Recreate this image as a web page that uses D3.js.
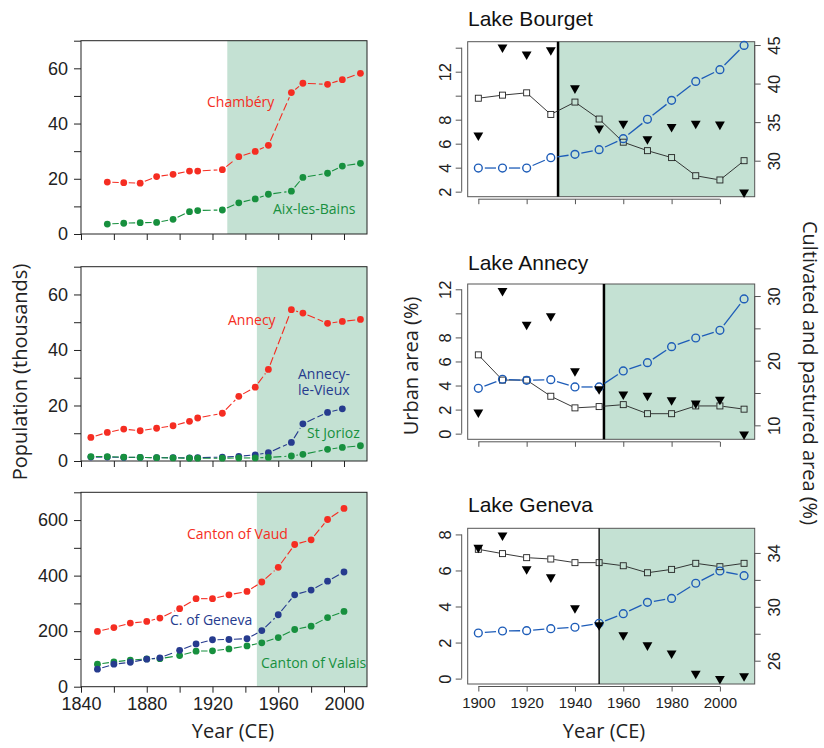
<!DOCTYPE html>
<html lang="en">
<head>
<meta charset="UTF-8">
<script src="https://cdn.jsdelivr.net/npm/d3@7"></script>
<title>Population and land use around the lakes</title>
<style>
  html, body { margin: 0; padding: 0; background: #fff; }
  svg { display: block; }
  .tick-label { font-family: "Liberation Sans", Arial, sans-serif; fill: #222; }
  .title { font-family: "Open Sans", sans-serif; fill: #222; }
</style>
</head>
<body>
<div id="chart"></div>
<script>
// ---- left column: population (thousands) ----
const chamberyYears = [1856, 1866, 1876, 1886, 1896, 1906, 1911, 1926, 1936, 1946, 1954, 1968, 1975, 1990, 1999, 2010];
const chamberyPop = [18.8, 18.6, 18.4, 20.8, 21.6, 22.8, 22.8, 23.3, 28.0, 29.9, 32.1, 51.2, 54.6, 54.2, 55.9, 58.2];
const aixPop = [3.6, 3.9, 4.1, 4.2, 5.3, 8.1, 8.5, 8.7, 11.3, 12.7, 14.4, 15.5, 20.5, 22.0, 24.6, 25.6];

const annecyYears = [1846, 1856, 1866, 1876, 1886, 1896, 1906, 1911, 1926, 1936, 1946, 1954, 1968, 1975, 1990, 1999, 2010];
const annecyPop = [8.5, 10.3, 11.5, 10.9, 11.8, 12.7, 14.3, 15.5, 17.2, 23.3, 26.6, 33.0, 54.5, 53.3, 49.6, 50.3, 51.0];
const annecyLeVieuxPop = [1.4, 1.4, 1.3, 1.3, 1.2, 1.2, 1.1, 1.2, 1.4, 1.7, 2.2, 3.0, 6.7, 13.4, 17.5, 18.8];
const stJoriozPop = [1.6, 1.6, 1.4, 1.3, 1.2, 1.1, 1.0, 1.0, 1.0, 1.1, 1.1, 1.3, 1.8, 2.4, 4.2, 4.9, 5.5];

const swissYears = [1850, 1860, 1870, 1880, 1888, 1900, 1910, 1920, 1930, 1941, 1950, 1960, 1970, 1980, 1990, 2000];
const vaudPop = [199, 213, 229, 235, 247, 281, 317, 317, 331, 343, 377, 430, 512, 529, 602, 642];
const genevaPop = [63, 81, 88, 99, 104, 131, 154, 169, 170, 173, 202, 259, 331, 348, 380, 413];
const valaisPop = [81, 89, 96, 100, 101, 112, 128, 129, 136, 147, 158, 177, 206, 218, 249, 271];

const popYearTicks = [1840, 1860, 1880, 1900, 1920, 1940, 1960, 1980, 2000];
const popYearLabels = [1840, 1880, 1920, 1960, 2000];

// ---- right column: urban area (%) and cultivated/pastured area (%) ----
const lakeYears = [1900, 1910, 1920, 1930, 1940, 1950, 1960, 1970, 1980, 1990, 2000, 2010];
const lakeYearTicks = [1900, 1920, 1940, 1960, 1980, 2000];

const bourgetUrban = [3.97, 3.97, 3.97, 4.83, 5.11, 5.50, 6.42, 8.03, 9.61, 11.19, 12.17, 14.19];
const bourgetCult = [38.1, 38.5, 38.8, 36.0, 37.6, 35.4, 32.4, 31.3, 30.4, 28.05, 27.5, 30.0];
const bourgetTri = [33.3, 44.7, 43.8, 44.35, 39.4, 34.2, 34.8, 32.8, 34.4, 34.8, 34.7, 25.9];

const annecyUrban = [3.77, 4.52, 4.43, 4.49, 3.88, 3.88, 5.21, 5.90, 7.23, 7.95, 8.59, 11.2];
const annecyCult = [20.9, 17.0, 17.0, 14.5, 12.7, 12.9, 13.2, 11.8, 11.8, 13.0, 13.0, 12.5];
const annecyTri = [12.0, 30.8, 25.6, 26.9, 18.4, 15.6, 14.8, 14.6, 13.9, 13.4, 14.0, 8.6];

const genevaUrban = [2.53, 2.64, 2.66, 2.77, 2.85, 3.07, 3.60, 4.23, 4.45, 5.29, 5.97, 5.71];
const genevaCult = [34.27, 33.95, 33.65, 33.55, 33.28, 33.28, 33.05, 32.53, 32.78, 33.23, 32.98, 33.23];
const genevaTri = [34.4, 35.3, 32.8, 32.2, 29.9, 28.65, 27.9, 27.15, 26.55, 25.05, 24.65, 24.85];

const red = "#f52d22", blue = "#263b8e", green = "#17903e";
const shade = "#c4e1d3", lakeBlue = "#1d5cb8";

const width = 824, height = 748;
const svg = d3.select("#chart").append("svg").attr("width", width).attr("height", height);

// draw a line that stops short of each point (like R type="b")
function gapLine(g, pts, gap, color, widthPx, dash) {
    for (let i = 0; i < pts.length - 1; i++) {
        const [x1, y1] = pts[i], [x2, y2] = pts[i + 1];
        const dx = x2 - x1, dy = y2 - y1, len = Math.hypot(dx, dy);
        if (len <= 2 * gap) continue;
        const ux = dx / len, uy = dy / len;
        g.append("line")
            .attr("x1", x1 + ux * gap).attr("y1", y1 + uy * gap)
            .attr("x2", x2 - ux * gap).attr("y2", y2 - uy * gap)
            .attr("stroke", color).attr("stroke-width", widthPx)
            .attr("stroke-dasharray", dash || null);
    }
}

// ---------------- left column ----------------
const popX = d3.scaleLinear().domain([1840, 2014]).range([81, 367]);

const popPanels = [
    {top: 40.7, bottom: 234, max: 70, step: 10, labels: [0, 20, 40, 60], shadeFrom: 1929,
     series: [
        {years: chamberyYears, values: chamberyPop, color: red},
        {years: chamberyYears, values: aixPop, color: green}],
     notes: [
        {text: "Chambéry", x: 207, y: 107, color: red},
        {text: "Aix-les-Bains", x: 273, y: 214, color: green}]},
    {top: 266.7, bottom: 461, max: 70, step: 10, labels: [0, 20, 40, 60], shadeFrom: 1947,
     series: [
        {years: annecyYears, values: annecyPop, color: red},
        {years: annecyYears.slice(0, annecyLeVieuxPop.length), values: annecyLeVieuxPop, color: blue},
        {years: annecyYears, values: stJoriozPop, color: green}],
     notes: [
        {text: "Annecy", x: 228, y: 325, color: red},
        {text: "Annecy-", x: 298, y: 379, color: blue},
        {text: "le-Vieux", x: 298, y: 395, color: blue},
        {text: "St Jorioz", x: 307, y: 438, color: green}]},
    {top: 492.3, bottom: 686.7, max: 700, step: 100, labels: [0, 200, 400, 600], shadeFrom: 1947,
     series: [
        {years: swissYears, values: valaisPop, color: green},
        {years: swissYears, values: genevaPop, color: blue},
        {years: swissYears, values: vaudPop, color: red}],
     notes: [
        {text: "Canton of Vaud", x: 187, y: 539, color: red},
        {text: "C. of Geneva", x: 170, y: 625, color: blue},
        {text: "Canton of Valais", x: 261, y: 668, color: green}],
     xLabels: true}
];

popPanels.forEach(p => {
    const y = d3.scaleLinear().domain([0, p.max]).range([p.bottom, p.top]);
    const g = svg.append("g");
    const [x0, x1] = popX.range();

    g.append("rect")
        .attr("x", popX(p.shadeFrom)).attr("y", p.top)
        .attr("width", x1 - popX(p.shadeFrom)).attr("height", p.bottom - p.top)
        .attr("fill", shade);

    g.append("rect")
        .attr("x", x0).attr("y", p.top).attr("width", x1 - x0).attr("height", p.bottom - p.top)
        .attr("fill", "none").attr("stroke", "#222").attr("stroke-width", 1);

    const yTicks = d3.range(0, p.max + 1, p.step);
    const ya = g.append("g").attr("transform", `translate(${x0},0)`)
        .call(d3.axisLeft(y).tickValues(yTicks).tickSize(7).tickPadding(6)
            .tickFormat(d => p.labels.includes(d) ? d : ""));
    ya.select(".domain").remove();
    ya.selectAll("line").attr("stroke", "#222");
    ya.selectAll("text").attr("class", "tick-label").attr("font-size", 18).attr("fill", "#222");

    const xa = g.append("g").attr("transform", `translate(0,${p.bottom})`)
        .call(d3.axisBottom(popX).tickValues(popYearTicks).tickSize(6).tickPadding(5)
            .tickFormat(d => p.xLabels && popYearLabels.includes(d) ? d : ""));
    xa.select(".domain").remove();
    xa.selectAll("line").attr("stroke", "#222");
    xa.selectAll("text").attr("class", "tick-label").attr("font-size", 18).attr("fill", "#222");

    p.series.forEach(s => {
        const pts = s.years.map((yr, i) => [popX(yr), y(s.values[i])]);
        gapLine(g, pts, 5, s.color, 1.1, "8,3");
        g.selectAll(null).data(pts).join("circle")
            .attr("cx", d => d[0]).attr("cy", d => d[1]).attr("r", 3.4)
            .attr("fill", s.color);
    });

    p.notes.forEach(n => {
        g.append("text").attr("x", n.x).attr("y", n.y)
            .attr("font-family", "Open Sans, sans-serif").attr("font-size", 14)
            .attr("fill", n.color).text(n.text);
    });
});

svg.append("text").attr("class", "title")
    .attr("transform", "translate(27,372) rotate(-90)")
    .attr("text-anchor", "middle").attr("font-size", 20)
    .text("Population (thousands)");
svg.append("text").attr("class", "title")
    .attr("x", 233).attr("y", 738).attr("text-anchor", "middle").attr("font-size", 20)
    .text("Year (CE)");

// ---------------- right column ----------------
const lakeX = d3.scaleLinear().domain([1895.6, 2014.4]).range([467.7, 754.7]);

const lakePanels = [
    {name: "Lake Bourget", top: 41.7, bottom: 196.7, titleY: 26,
     left: [1.58, 14.5], leftTicks: [2, 4, 6, 8, 10, 12, 14], leftLabels: [2, 4, 6, 8, 12],
     right: [25.33, 45.43], rightTicks: [30, 35, 40, 45], rightLabels: [30, 35, 40, 45],
     line: 1933, lineW: 2.5, urban: bourgetUrban, cult: bourgetCult, tri: bourgetTri},
    {name: "Lake Annecy", top: 284, bottom: 439.3, titleY: 270,
     left: [-0.47, 12.44], leftTicks: [0, 2, 4, 6, 8, 10, 12], leftLabels: [0, 2, 4, 6, 8, 12],
     right: [7.84, 31.86], rightTicks: [10, 15, 20, 25, 30], rightLabels: [10, 20, 30],
     line: 1952, lineW: 2.5, urban: annecyUrban, cult: annecyCult, tri: annecyTri},
    {name: "Lake Geneva", top: 528.3, bottom: 684, titleY: 512,
     left: [-0.3, 8.34], leftTicks: [0, 2, 4, 6, 8], leftLabels: [0, 2, 4, 6, 8],
     right: [24.27, 35.83], rightTicks: [26, 28, 30, 32, 34], rightLabels: [26, 30, 34],
     line: 1950, lineW: 1.3, urban: genevaUrban, cult: genevaCult, tri: genevaTri, xLabels: true}
];

const tri = d3.symbol().type(d3.symbolTriangle).size(42);

// move a rotated tick label out of its tick group so it can be turned
function turnLabels(axisG, dx) {
    axisG.selectAll(".tick").each(function () {
        const tick = d3.select(this);
        const yy = +tick.attr("transform").match(/,([-\d.]+)\)/)[1];
        tick.attr("transform", "translate(0,0)");
        tick.select("line").attr("transform", `translate(0,${yy})`);
        tick.select("text").attr("class", "tick-label").attr("font-size", 16.5)
            .attr("text-anchor", "middle").attr("x", 0).attr("y", 0).attr("dy", 0)
            .attr("transform", `translate(${dx},${yy}) rotate(-90)`);
    });
}

lakePanels.forEach(p => {
    const yl = d3.scaleLinear().domain(p.left).range([p.bottom, p.top]);
    const yr = d3.scaleLinear().domain(p.right).range([p.bottom, p.top]);
    const [x0, x1] = lakeX.range();
    const g = svg.append("g");

    g.append("text").attr("x", 468).attr("y", p.titleY)
        .attr("font-family", "Liberation Sans, Arial, sans-serif").attr("font-size", 21)
        .attr("fill", "#111").text(p.name);

    g.append("rect")
        .attr("x", lakeX(p.line)).attr("y", p.top)
        .attr("width", x1 - lakeX(p.line)).attr("height", p.bottom - p.top)
        .attr("fill", shade);
    g.append("rect")
        .attr("x", x0).attr("y", p.top).attr("width", x1 - x0).attr("height", p.bottom - p.top)
        .attr("fill", "none").attr("stroke", "#555").attr("stroke-width", 1);
    g.append("line")
        .attr("x1", lakeX(p.line)).attr("x2", lakeX(p.line))
        .attr("y1", p.top).attr("y2", p.bottom)
        .attr("stroke", "#000").attr("stroke-width", p.lineW);

    // left axis, offset from the box
    const la = g.append("g").attr("transform", `translate(${x0 - 6},0)`)
        .call(d3.axisLeft(yl).tickValues(p.leftTicks).tickSizeOuter(0).tickSize(6)
            .tickFormat(d => p.leftLabels.includes(d) ? d : ""));
    la.select(".domain").attr("d", `M0,${yl(p.leftTicks[0])}V${yl(p.leftTicks[p.leftTicks.length - 1])}`)
        .attr("stroke", "#555");
    la.selectAll("line").attr("stroke", "#555");
    turnLabels(la, -11);

    // right axis, on the box edge
    const ra = g.append("g").attr("transform", `translate(${x1},0)`)
        .call(d3.axisRight(yr).tickValues(p.rightTicks).tickSizeOuter(0).tickSize(6)
            .tickFormat(d => p.rightLabels.includes(d) ? d : ""));
    ra.select(".domain").attr("d", `M0,${yr(p.rightTicks[0])}V${yr(p.rightTicks[p.rightTicks.length - 1])}`)
        .attr("stroke", "#555");
    ra.selectAll("line").attr("stroke", "#555");
    turnLabels(ra, 25);

    // bottom axis, slightly below the box
    const xa = g.append("g").attr("transform", `translate(0,${p.bottom + 2.5})`)
        .call(d3.axisBottom(lakeX).tickValues(lakeYearTicks).tickSizeOuter(0).tickSize(5).tickPadding(6)
            .tickFormat(d => p.xLabels ? d : ""));
    xa.select(".domain").attr("d", `M${lakeX(1900)},0H${lakeX(2000)}`).attr("stroke", "#555");
    xa.selectAll("line").attr("stroke", "#555");
    xa.selectAll("text").attr("class", "tick-label").attr("font-size", 15);

    const urbanPts = lakeYears.map((yr0, i) => [lakeX(yr0), yl(p.urban[i])]);
    const cultPts = lakeYears.map((yr0, i) => [lakeX(yr0), yr(p.cult[i])]);
    const triPts = lakeYears.map((yr0, i) => [lakeX(yr0), yr(p.tri[i])]);

    gapLine(g, cultPts, 3.5, "#222", 0.9);
    g.selectAll(null).data(cultPts).join("rect")
        .attr("x", d => d[0] - 3).attr("y", d => d[1] - 3)
        .attr("width", 6).attr("height", 6)
        .attr("fill", "none").attr("stroke", "#222").attr("stroke-width", 0.9);

    gapLine(g, urbanPts, 6.5, lakeBlue, 1.3);
    g.selectAll(null).data(urbanPts).join("circle")
        .attr("cx", d => d[0]).attr("cy", d => d[1]).attr("r", 3.9)
        .attr("fill", "none").attr("stroke", lakeBlue).attr("stroke-width", 1.4);

    g.selectAll(null).data(triPts).join("path")
        .attr("d", tri)
        .attr("transform", d => `translate(${d[0]},${d[1]}) rotate(180)`)
        .attr("fill", "#000");
});

svg.append("text").attr("class", "title")
    .attr("transform", "translate(418,366) rotate(-90)")
    .attr("text-anchor", "middle").attr("font-size", 20)
    .text("Urban area (%)");
svg.append("text").attr("class", "title")
    .attr("transform", "translate(803,373) rotate(90)")
    .attr("text-anchor", "middle").attr("font-size", 20)
    .text("Cultivated and pastured area (%)");
svg.append("text").attr("class", "title")
    .attr("x", 604).attr("y", 738).attr("text-anchor", "middle").attr("font-size", 20)
    .text("Year (CE)");
</script>
</body>
</html>
